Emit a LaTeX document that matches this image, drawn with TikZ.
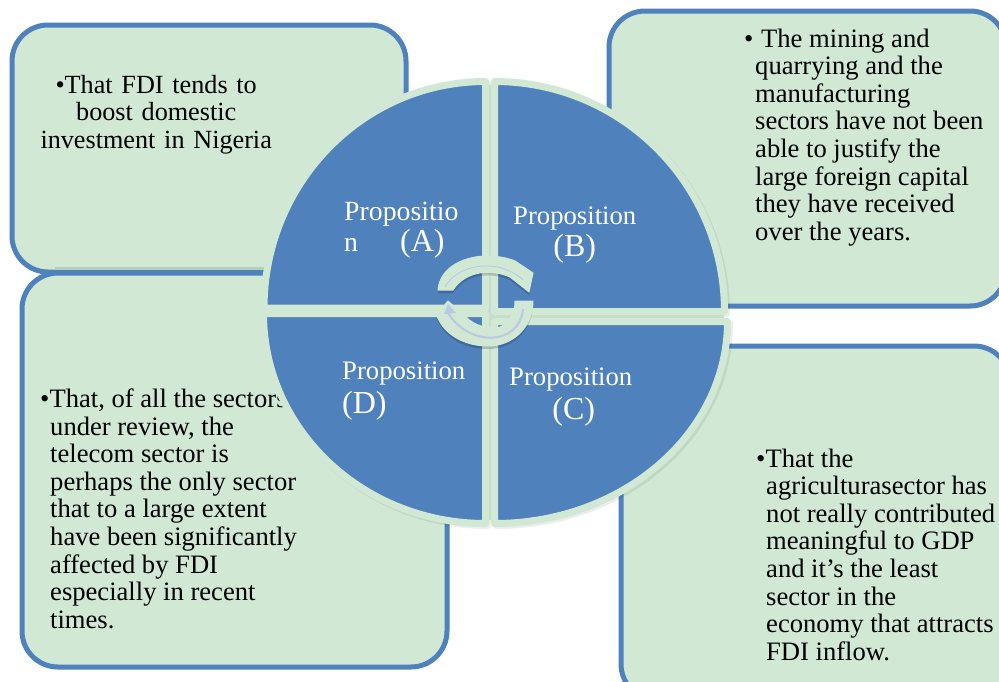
\documentclass[tikz,border=0pt]{standalone}
\usepackage{fontspec}
\setmainfont{Liberation Serif}
\definecolor{boxfill}{HTML}{D0E8D4}
\definecolor{boxline}{HTML}{4F81BD}
\definecolor{inner}{HTML}{BAC8E4}
\definecolor{rim}{HTML}{B4CFC0}
\tikzset{x=1pt,y=-1pt,
 panel/.style={draw=boxline,line width=5pt,fill=boxfill,rounded corners=36pt},
 quad/.style={draw=boxfill,line width=7pt,fill=boxline,line join=round},
 quadshade/.style={draw=black,line width=7pt,draw opacity=.07,line join=round},
 body/.style={font=\fontsize{26.6}{27.6}\selectfont,text=black,inner sep=0pt,anchor=north west},
 lab/.style={font=\fontsize{26.7}{32}\selectfont,text=white,inner sep=0pt,anchor=north west},
 loopfill/.style={fill=boxfill,draw=boxfill,line width=1pt,line join=round},
 loopshade/.style={fill=black,fill opacity=.18},
}
\newcommand{\biglab}[1]{{\fontsize{32}{32}\selectfont #1}}
\newcommand{\qa}{(485.5,308) -- (264,308) arc[start angle=180,end angle=270,x radius=221.5,y radius=226.5] -- cycle}
\newcommand{\qb}{(494.5,311.5) -- (494.5,81.5) arc[start angle=270,end angle=360,x radius=230,y radius=230] -- cycle}
\newcommand{\qc}{(494.5,321.5) -- (727.5,321.5) arc[start angle=0,end angle=90,x radius=233,y radius=202] -- cycle}
\newcommand{\qd}{(485.5,313.5) -- (485.5,523.5) arc[start angle=90,end angle=180,x radius=222,y radius=210] -- cycle}
\newcommand{\looptop}{(438,290) .. controls (440,266) and (466,256) .. (487,256) .. controls (498,256) and (508,258) .. (515,261) -- (533,273) -- (529,292) -- (510,277) .. controls (492,269) and (466,270) .. (453,290) -- cycle}
\newcommand{\loopbot}{(533,301) .. controls (533,328) and (512,346) .. (488,346) .. controls (466,346) and (448,336) .. (440,322) -- (436,315) -- (448,301) -- (465,316) .. controls (474,326) and (490,330) .. (500,327) .. controls (509,323) and (515,314) .. (515,301) -- cycle}
\begin{document}
\begin{tikzpicture}
\useasboundingbox (0,0) rectangle (999,681);
\fill[white] (0,0) rectangle (999,681);
\draw[panel] (12,25) rectangle (406,272);
\draw[panel] (609,11) rectangle (1006,306);
\draw[rim,line width=3pt] (55,268.5) -- (300,268.5);
\draw[panel] (22,273) rectangle (447,667);
\draw[panel] (621,346) rectangle (1010,700);
\node[body,align=center,text width=240pt,font=\fontsize{26.2}{27.6}\selectfont] (ta) at (36,75) {•That FDI tends to\hspace*{8pt}\\ boost domestic\\ investment in Nigeria};
\node[body,align=left] (tb) at (744,28.5) {• \hspace{1pt}The mining and\\ \hspace*{11pt}quarrying and the\\ \hspace*{11pt}manufacturing\\ \hspace*{11pt}sectors have not been\\ \hspace*{11pt}able to justify the\\ \hspace*{11pt}large foreign capital\\ \hspace*{11pt}they have received\\ \hspace*{11pt}over the years.};
\node[body,align=left] (tc) at (756,448.5) {•That the\\ \hspace*{10pt}agriculturasector has\\ \hspace*{10pt}not really contributed\\ \hspace*{10pt}meaningful to GDP\\ \hspace*{10pt}and it’s the least\\ \hspace*{10pt}sector in the\\ \hspace*{10pt}economy that attracts\\ \hspace*{10pt}FDI inflow.};
\node[body,align=left] (td) at (40,388.5) {•That, of all the sectors,\\ \hspace*{10pt}under review, the\\ \hspace*{10pt}telecom sector is\\ \hspace*{10pt}perhaps the only sector\\ \hspace*{10pt}that to a large extent\\ \hspace*{10pt}have been significantly\\ \hspace*{10pt}affected by FDI\\ \hspace*{10pt}especially in recent\\ \hspace*{10pt}times.};
% quadrant shadows and the cross between them
\begin{scope}[shift={(2,2)}]
\draw[quadshade] \qa; \draw[quadshade] \qb; \draw[quadshade] \qc; \draw[quadshade] \qd;
\end{scope}
\fill[boxfill!60!rim] (482,85) rectangle (498,520);
\fill[boxfill!60!rim] (267,304) rectangle (724,325);
% quadrants
\draw[quad] \qa;
\draw[quad] \qb;
\draw[quad] \qc;
\draw[quad] \qd;
\node[lab,align=left,font=\fontsize{27.8}{31}\selectfont] (la) at (344,202) {Propositio\\ n\hspace{42pt}\biglab{(A)}};
\node[lab,align=center] (lb) at (513,207) {Proposition\\ \biglab{(B)}};
\node[lab,align=center] (lc) at (509,368) {Proposition\\[2pt] \hspace*{6pt}\biglab{(C)}};
\node[lab,align=left] (ld) at (342,362) {Proposition\\[2pt] \biglab{(D)}};
% circular arrows
\begin{scope}[shift={(0,3)}]
\fill[loopshade] \looptop;
\fill[loopshade] \loopbot;
\end{scope}
\draw[loopfill] \looptop;
\draw[loopfill] \loopbot;
\draw[inner,line width=.8pt] (445,287) .. controls (458,263) and (500,258) .. (523,280);
\draw[inner,line width=2pt] (523,309) .. controls (520,345) and (470,348) .. (448,313);
\fill[inner] (448,304) -- (444,314) -- (456,313) -- cycle;
\end{tikzpicture}
\end{document}
